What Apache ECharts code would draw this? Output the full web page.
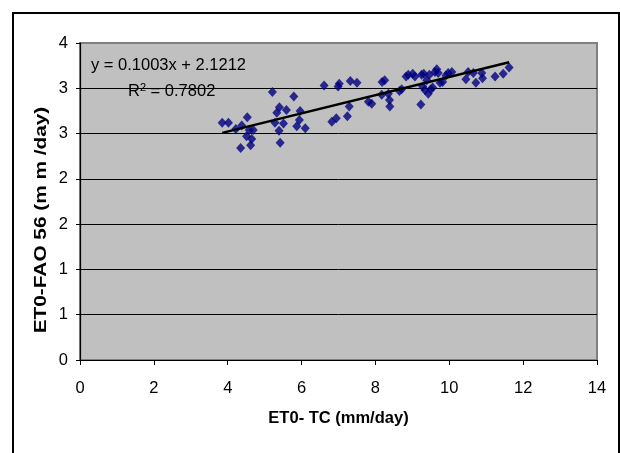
<!DOCTYPE html>
<html>
<head>
<meta charset="utf-8">
<script src="https://cdn.jsdelivr.net/npm/echarts@6/dist/echarts.min.js"></script>
<style>
  html, body { margin: 0; padding: 0; background: #fff; }
  #chart { width: 620px; height: 453px; }
</style>
</head>
<body>
<div id="chart"></div>
<script>
// ET0 from the TC method (x) against ET0-FAO 56 (y), mm/day
const etTc = [
  3.85, 4.02, 4.22, 4.38, 4.53, 4.58, 4.69, 4.51, 4.65, 4.35, 4.62,
  5.21, 5.28, 5.33, 5.40, 5.39, 5.42, 5.51, 5.59, 5.79, 5.96, 5.94, 5.87, 6.10,
  6.61, 6.82, 6.94, 6.99, 7.02, 7.24, 7.29, 7.32, 7.50, 7.81, 7.90,
  8.18, 8.25, 8.17, 8.35, 8.38, 8.39, 8.65, 8.71, 8.83, 8.89, 9.01, 9.07,
  9.23, 9.25, 9.31, 9.39, 9.28, 9.34, 9.43, 9.50, 9.55, 9.46, 9.61, 9.66, 9.70,
  9.75, 9.82, 9.91, 9.97, 10.07, 10.45, 10.51, 10.65, 10.72, 10.88, 10.90,
  11.24, 11.46, 11.62
]
const etFao = [
  2.62, 2.62, 2.55, 2.59, 2.68, 2.54, 2.54, 2.47, 2.44, 2.34, 2.37,
  2.96, 2.62, 2.73, 2.79, 2.53, 2.40, 2.61, 2.76, 2.91, 2.75, 2.65, 2.58, 2.56,
  3.03, 2.63, 2.67, 3.02, 3.05, 2.69, 2.80, 3.08, 3.06, 2.85, 2.83,
  3.07, 3.09, 2.93, 2.94, 2.87, 2.80, 2.97, 2.99, 3.13, 3.15, 3.16, 3.13,
  2.82, 3.15, 3.16, 3.09, 3.02, 2.98, 2.94, 2.99, 3.01, 3.15, 3.18, 3.21, 3.17,
  3.06, 3.07, 3.14, 3.17, 3.18, 3.10, 3.18, 3.17, 3.06, 3.17, 3.11,
  3.13, 3.16, 3.23
]

// linear trendline reported on the chart
const slope = 0.1003
const intercept = 2.1212
const equationText = 'y = 0.1003x + 2.1212'
const r2Text = 'R{sup|2} = 0.7802'

const xTicks = [0, 2, 4, 6, 8, 10, 12, 14]
const yTicks = [0, 0.5, 1, 1.5, 2, 2.5, 3, 3.5]
const xTitle = 'ET0- TC (mm/day)'
const yTitle = 'ET0-FAO 56 (m m /day)'

const points = etTc.map((x, i) => [x, etFao[i]])
const xMin = Math.min(...etTc)
const xMax = Math.max(...etTc)
const trend = [xMin, xMax].map((x) => [x, slope * x + intercept])

const font = 'Liberation Sans, Arial, sans-serif'

const chart = echarts.init(document.getElementById('chart'), null, { renderer: 'canvas' })

chart.setOption({
  animation: false,
  backgroundColor: '#fff',
  grid: {
    left: 80, right: 23, top: 43, bottom: 93,
    show: true,
    backgroundColor: '#c0c0c0',
    borderColor: '#808080',
    borderWidth: 2
  },
  xAxis: {
    type: 'value',
    min: xTicks[0],
    max: xTicks[xTicks.length - 1],
    interval: xTicks[1] - xTicks[0],
    name: xTitle,
    nameLocation: 'middle',
    nameGap: 50,
    nameTextStyle: { fontFamily: font, fontSize: 16.5, fontWeight: 'bold', color: '#000' },
    axisLine: { show: true, onZero: false, lineStyle: { color: '#000', width: 1.2 } },
    axisTick: { show: true, inside: false, length: 5, lineStyle: { color: '#000' } },
    axisLabel: { fontFamily: font, fontSize: 16.5, color: '#000', margin: 20 },
    splitLine: { show: false }
  },
  yAxis: {
    type: 'value',
    min: yTicks[0],
    max: yTicks[yTicks.length - 1],
    interval: yTicks[1] - yTicks[0],
    axisLine: { show: true, onZero: false, lineStyle: { color: '#000', width: 1.2 } },
    axisTick: { show: true, inside: false, length: 4, lineStyle: { color: '#000' } },
    axisLabel: {
      fontFamily: font, fontSize: 16.5, color: '#000', margin: 12,
      formatter: (v) => String(Math.round(v))
    },
    splitLine: { show: true, showMinLine: false, showMaxLine: false, lineStyle: { color: '#000', width: 1 } }
  },
  graphic: [
    {
      type: 'rect',
      shape: { x: 13, y: 13, width: 606, height: 500 },
      style: { fill: 'none', stroke: '#000', lineWidth: 2 },
      silent: true
    },
    {
      // y axis title, stretched along its length like the source
      type: 'text',
      x: 42, y: 220,
      rotation: Math.PI / 2,
      scaleX: 1.3,
      style: {
        text: yTitle, font: 'bold 16px ' + font, fill: '#000',
        align: 'center', verticalAlign: 'middle'
      }
    },
    {
      type: 'text',
      left: 91, top: 57,
      style: { text: equationText, font: '16.5px ' + font, fill: '#000' }
    },
    {
      type: 'text',
      left: 128, top: 82,
      style: {
        text: r2Text, font: '16.5px ' + font, fill: '#000',
        rich: { sup: { fontSize: 11, fontFamily: font, verticalAlign: 'top', padding: [0, 0, 8, 0] } }
      }
    }
  ],
  series: [
    {
      name: 'ET0',
      type: 'scatter',
      symbol: 'diamond',
      symbolSize: [9, 10],
      itemStyle: { color: '#000080' },
      data: points,
      z: 2
    },
    {
      name: 'Trend',
      type: 'line',
      data: trend,
      symbol: 'none',
      lineStyle: { color: '#000', width: 2.5 },
      z: 3
    }
  ]
})
</script>
</body>
</html>
